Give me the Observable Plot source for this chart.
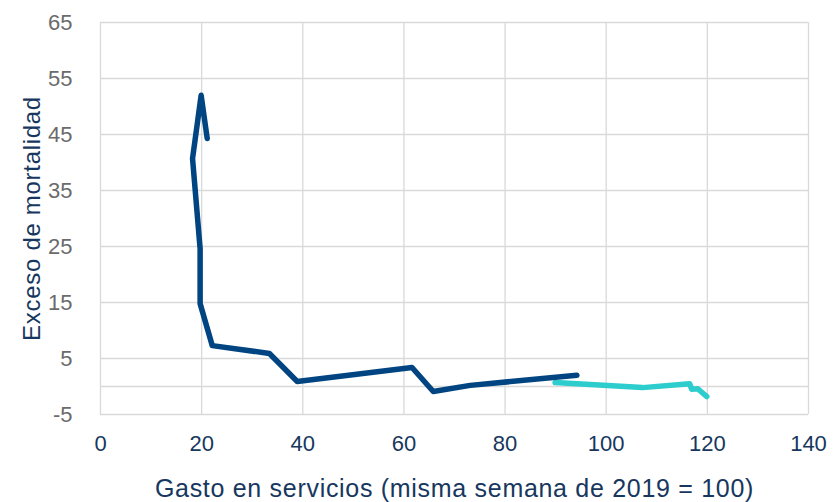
<!DOCTYPE html>
<html>
<head>
<meta charset="utf-8">
<script src="https://cdn.jsdelivr.net/npm/d3@7"></script>
<script src="https://cdn.jsdelivr.net/npm/@observablehq/plot@0.6"></script>
<style>
  body { margin: 0; background: #fff; }
  #chart svg { font-family: "Liberation Sans", Arial, sans-serif; }
  #chart svg text { font-size: 22px; }
  #chart g[aria-label="y-axis label"] text { font-size: 24px !important; fill: #17375E; letter-spacing: 0.7px; }
  #chart g[aria-label="x-axis label"] text { font-size: 25px !important; fill: #17375E; letter-spacing: 0.7px; }
</style>
</head>
<body>
<div id="chart"></div>
<script>
// Dark series (first wave)
const darkX = [21.1, 19.9, 18.2, 19.7, 19.7, 22.1, 33.4, 38.9, 61.6, 65.8, 73.1, 94.2];
const darkY = [44.3, 52.0, 40.7, 24.6, 14.8, 7.3, 5.9, 0.9, 3.4, -0.9, 0.2, 2.0];
// Cyan series (recovery)
const cyanX = [89.9, 107.2, 116.5, 116.9, 118.1, 119.9];
const cyanY = [0.7, -0.2, 0.5, -0.5, -0.4, -1.8];
const xTicks = [0, 20, 40, 60, 80, 100, 120, 140];
const yTicks = [-5, 5, 15, 25, 35, 45, 55, 65];

const dark = darkX.map((x, i) => ({x, y: darkY[i]}));
const cyan = cyanX.map((x, i) => ({x, y: cyanY[i]}));

const chart = Plot.plot({
  width: 835,
  height: 502,
  marginLeft: 100,
  marginRight: 27,
  marginTop: 22,
  marginBottom: 88,
  style: {fontFamily: "Liberation Sans, Arial, sans-serif", background: "#fff", fontSize: "22px"},
  x: {domain: [0, 140], ticks: xTicks},
  y: {domain: [-5, 65], ticks: yTicks},
  marks: [
    Plot.gridX(xTicks, {stroke: "#d9d9d9", strokeOpacity: 1, strokeWidth: 1.3}),
    Plot.gridY(yTicks, {stroke: "#d9d9d9", strokeOpacity: 1, strokeWidth: 1.3}),
    Plot.ruleY([0], {stroke: "#d9d9d9", strokeWidth: 1.3}),
    Plot.axisX(xTicks, {tickSize: 0, tickPadding: 21, fontSize: 22, color: "#17375E", tickFormat: d => String(d), label: "Gasto en servicios (misma semana de 2019 = 100)", labelAnchor: "center", labelArrow: "none", labelOffset: 82}),
    Plot.axisY(yTicks, {tickSize: 0, tickPadding: 28, fontSize: 22, color: "#6b6b6b", tickFormat: d => String(d), label: "Exceso de mortalidad", labelAnchor: "center", labelArrow: "none", labelOffset: 78}),
    Plot.line(cyan, {x: "x", y: "y", stroke: "#2DCCCD", strokeWidth: 5.5, strokeLinecap: "round", strokeLinejoin: "round"}),
    Plot.line(dark, {x: "x", y: "y", stroke: "#004481", strokeWidth: 5.5, strokeLinecap: "round", strokeLinejoin: "round"})
  ]
});
document.getElementById("chart").appendChild(chart);
</script>
</body>
</html>
